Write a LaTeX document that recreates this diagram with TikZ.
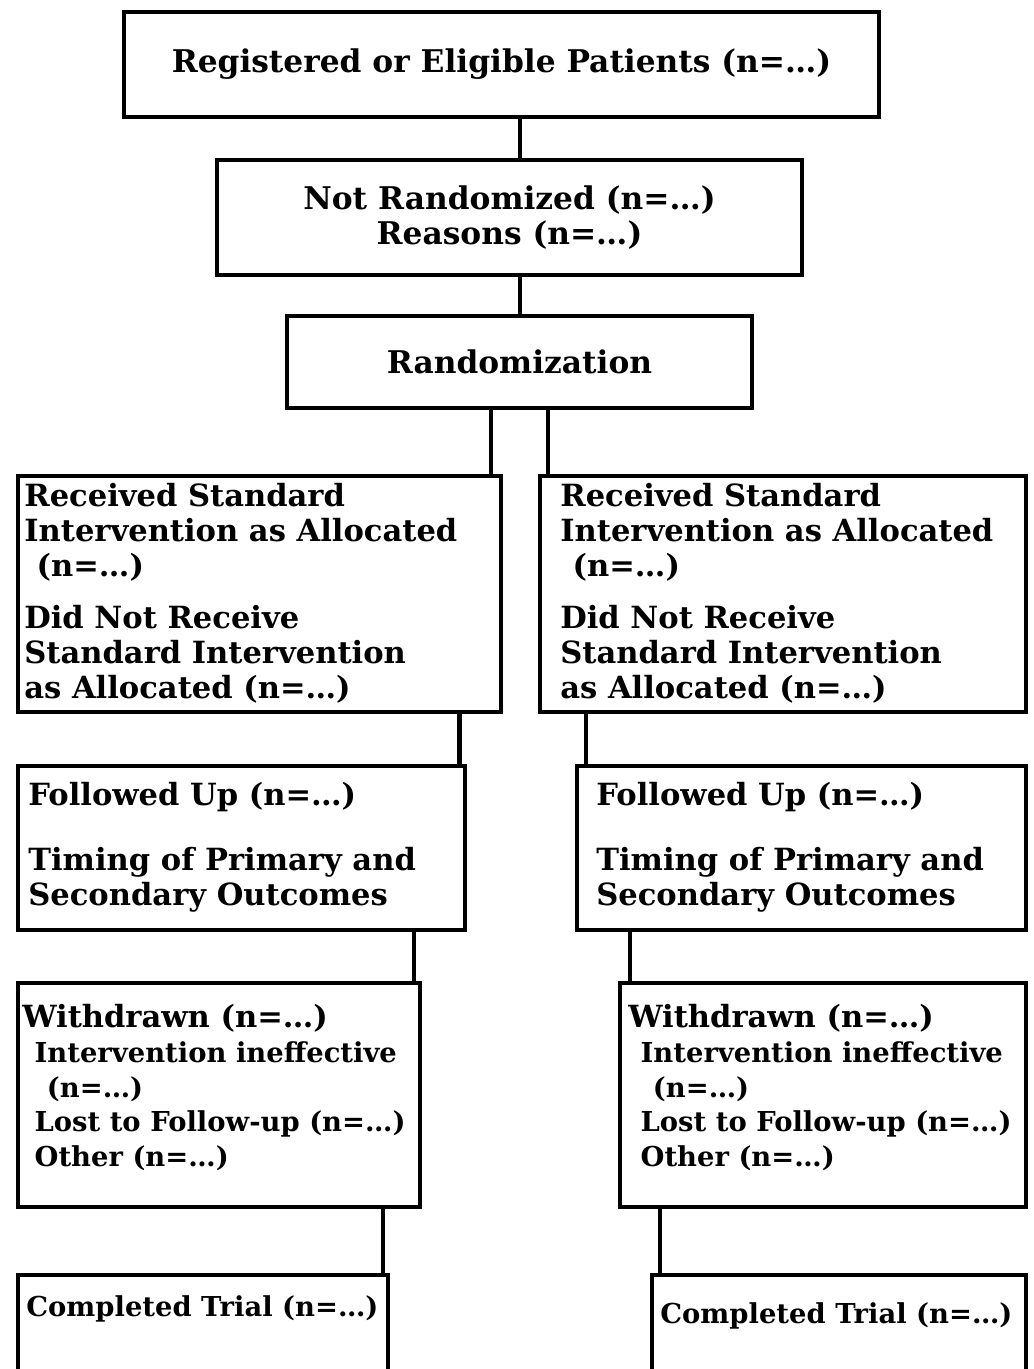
\documentclass[tikz,border=0pt]{standalone}
\usepackage{fontspec}
\setmainfont{DejaVu Serif}
\usetikzlibrary{positioning}

\newcommand{\pxu}{0.02cm}

\begin{document}
\begin{tikzpicture}[
                x = 0.02cm,
                y = -0.02cm,
                box/.style = {
                    draw,
                    rectangle,
                    line width = 2.3pt,
                    inner sep = 0pt,
                    outer sep = 0pt,
                    anchor = north west,
                    align = center,
                    font = \bfseries\fontsize{17.8}{19.8}\selectfont
                },
                txt/.style = {
                    anchor = north west,
                    inner sep = 0pt,
                    align = left,
                    font = \bfseries\fontsize{#1}{19.8}\selectfont
                },
                txt/.default = 17.4,
                link/.style = {line width = 2.4pt}
            ]

            \useasboundingbox (0,0) rectangle (1034,1369);
            \clip (0,0) rectangle (1034,1369);

            % top of the chart
            \node[box, minimum width=755*\pxu, minimum height=105*\pxu] (reg) at (124,12) {Registered or Eligible Patients (n=…)};
            \node[box, minimum width=585*\pxu, minimum height=115*\pxu] (notrand) at (217,160) {Not Randomized (n=…)\\Reasons (n=…)};
            \node[box, minimum width=465*\pxu, minimum height=92*\pxu] (rand) at (287,316) {Randomization};

            % two arms
            \node[box, minimum width=483*\pxu, minimum height=236*\pxu] (recL) at (18,476) {};
            \node[box, minimum width=486*\pxu, minimum height=236*\pxu] (recR) at (540,476) {};
            \node[box, minimum width=447*\pxu, minimum height=164*\pxu] (fupL) at (18,766) {};
            \node[box, minimum width=449*\pxu, minimum height=164*\pxu] (fupR) at (577,766) {};
            \node[box, minimum width=402*\pxu, minimum height=224*\pxu] (wdL) at (18,983) {};
            \node[box, minimum width=406*\pxu, minimum height=224*\pxu] (wdR) at (620,983) {};
            \node[box, minimum width=370*\pxu, minimum height=130*\pxu] (compL) at (18,1275) {};
            \node[box, minimum width=374*\pxu, minimum height=130*\pxu] (compR) at (652,1275) {};

            % texts of the arms
            \node[txt] (recLt) at ([shift={(6,7)}]recL.north west) {Received Standard\\Intervention as Allocated\\\hspace*{7pt}(n=…)\\[10pt]Did Not Receive\\Standard Intervention\\as Allocated (n=…)};
            \node[txt] (recRt) at ([shift={(20,7)}]recR.north west) {Received Standard\\Intervention as Allocated\\\hspace*{7pt}(n=…)\\[10pt]Did Not Receive\\Standard Intervention\\as Allocated (n=…)};
            \node[txt] (fupLt) at ([shift={(10,16)}]fupL.north west) {Followed Up (n=…)\\[17pt]Timing of Primary and\\Secondary Outcomes};
            \node[txt] (fupRt) at ([shift={(19,16)}]fupR.north west) {Followed Up (n=…)\\[17pt]Timing of Primary and\\Secondary Outcomes};
            \node[txt=15.6] (wdLt) at ([shift={(4,21)}]wdL.north west) {{\fontsize{17.4}{19.8}\selectfont Withdrawn (n=…)}\\\hspace*{7pt}Intervention ineffective\\\hspace*{14pt}(n=…)\\\hspace*{7pt}Lost to Follow-up (n=…)\\\hspace*{7pt}Other (n=…)};
            \node[txt=15.6] (wdRt) at ([shift={(8,21)}]wdR.north west) {{\fontsize{17.4}{19.8}\selectfont Withdrawn (n=…)}\\\hspace*{7pt}Intervention ineffective\\\hspace*{14pt}(n=…)\\\hspace*{7pt}Lost to Follow-up (n=…)\\\hspace*{7pt}Other (n=…)};
            \node[txt=15.6] (compLt) at ([shift={(8,20)}]compL.north west) {Completed Trial (n=…)};
            \node[txt=15.6] (compRt) at ([shift={(8,27)}]compR.north west) {Completed Trial (n=…)};

            % connectors
            \draw[link] ([xshift=18.5*\pxu]reg.south) -- ([xshift=18.5*\pxu]reg.south |- notrand.north);
            \draw[link] ([xshift=10.5*\pxu]notrand.south) -- ([xshift=10.5*\pxu]notrand.south |- rand.north);
            \draw[link] ([xshift=-28.5*\pxu]rand.south) -- ([xshift=-28.5*\pxu]rand.south |- recL.north);
            \draw[link] ([xshift=28.5*\pxu]rand.south) -- ([xshift=28.5*\pxu]rand.south |- recR.north);
            \draw[link] ([xshift=200*\pxu]recL.south) -- ([xshift=200*\pxu]recL.south |- fupL.north);
            \draw[link] ([xshift=-197*\pxu]recR.south) -- ([xshift=-197*\pxu]recR.south |- fupR.north);
            \draw[link] ([xshift=172.5*\pxu]fupL.south) -- ([xshift=172.5*\pxu]fupL.south |- wdL.north);
            \draw[link] ([xshift=-171.5*\pxu]fupR.south) -- ([xshift=-171.5*\pxu]fupR.south |- wdR.north);
            \draw[link] ([xshift=164*\pxu]wdL.south) -- ([xshift=164*\pxu]wdL.south |- compL.north);
            \draw[link] ([xshift=-163*\pxu]wdR.south) -- ([xshift=-163*\pxu]wdR.south |- compR.north);

\end{tikzpicture}
\end{document}
